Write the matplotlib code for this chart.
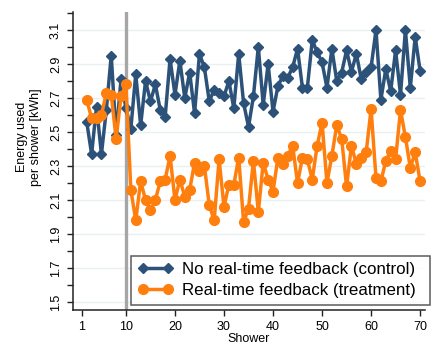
import numpy as np
import matplotlib.pyplot as plt

plt.rcParams['font.family'] = ['Liberation Sans', 'DejaVu Sans']

# shower number (first shower not shown)
shower = list(range(2, 71))

# energy per shower [kWh]
control = [2.56, 2.37, 2.65, 2.37, 2.63, 2.95, 2.48, 2.81, 2.64,
           2.52, 2.84, 2.54, 2.80, 2.68, 2.78, 2.63, 2.59, 2.93, 2.72,
           2.92, 2.70, 2.85, 2.61, 2.96, 2.88, 2.68, 2.75, 2.73, 2.71,
           2.80, 2.64, 2.96, 2.67, 2.53, 2.71, 3.00, 2.66, 2.90, 2.62,
           2.77, 2.83, 2.82, 2.88, 2.99, 2.76, 2.76, 3.04, 2.97, 2.91,
           2.76, 2.99, 2.80, 2.85, 2.98, 2.855, 2.96, 2.81, 2.855, 2.88,
           3.10, 2.69, 2.87, 2.74, 2.98, 2.72, 3.10, 2.76, 3.06, 2.86]

treatment = [2.69, 2.58, 2.58, 2.60, 2.73, 2.72, 2.46, 2.71, 2.78,
             2.16, 1.98, 2.21, 2.10, 2.04, 2.10, 2.21, 2.22, 2.36, 2.10,
             2.22, 2.12, 2.16, 2.32, 2.27, 2.30, 2.07, 1.98, 2.34, 2.06,
             2.19, 2.19, 2.35, 1.97, 2.05, 2.33, 2.03, 2.32, 2.22, 2.15,
             2.35, 2.31, 2.36, 2.42, 2.20, 2.35, 2.34, 2.22, 2.42, 2.555,
             2.20, 2.36, 2.54, 2.46, 2.18, 2.42, 2.31, 2.35, 2.38, 2.635,
             2.23, 2.21, 2.33, 2.39, 2.34, 2.63, 2.47, 2.29, 2.38, 2.21]

xticks = [1, 10, 20, 30, 40, 50, 60, 70]
yticks = [1.5, 1.7, 1.9, 2.1, 2.3, 2.5, 2.7, 2.9, 3.1]

blue = '#2c5279'
orange = '#ff7f0e'

fig = plt.figure(figsize=(4.36, 3.51), dpi=100)
ax = fig.add_axes([0.1674, 0.1168, 0.8074, 0.849])

ax.axvline(10, color='#a6a6a6', lw=2.4, zorder=1)
ax.plot(shower, control, color=blue, lw=2.5, marker='D', ms=5,
        label='No real-time feedback (control)', zorder=3)
ax.plot(shower, treatment, color=orange, lw=2.5, marker='o', ms=7,
        label='Real-time feedback (treatment)', zorder=4)

ax.set_xlim(-0.8, 71)
ax.set_ylim(1.453, 3.206)
ax.set_xticks(xticks)
ax.set_yticks(yticks)
ax.set_yticks(np.arange(1.6, 3.25, 0.2), minor=True)
ax.grid(axis='y', which='major', color='#e8f0f1', lw=1)
ax.set_axisbelow(True)
ax.spines['top'].set_visible(False)
ax.spines['right'].set_visible(False)
for s in ['left', 'bottom']:
    ax.spines[s].set_linewidth(1.1)
    ax.spines[s].set_color('#222222')
ax.tick_params(axis='both', which='both', length=4.5, width=1, color='#222222',
               labelsize=9)
plt.setp(ax.get_yticklabels(), rotation=90, va='center')

ax.set_xlabel('Shower', fontsize=9, labelpad=0)
fig.text(0.066, 1 - 137 / 351, 'Energy used\nper shower [kWh]', rotation=90,
         ha='center', va='center', multialignment='center', fontsize=9)

leg = ax.legend(loc='lower left', bbox_to_anchor=(0.300, 0.131, 0.686, 0.177),
                bbox_transform=fig.transFigure, mode='expand', borderaxespad=0,
                fancybox=False, fontsize=12.2, handlelength=2.1, handletextpad=0.5,
                labelspacing=0.35, borderpad=0.4, numpoints=2)
leg.get_frame().set_edgecolor('#333333')
leg.get_frame().set_linewidth(1.1)

plt.savefig('out.png', dpi=100)
